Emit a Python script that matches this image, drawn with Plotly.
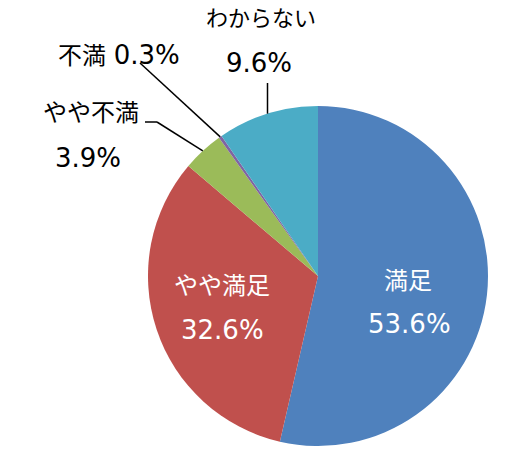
import math
import plotly.graph_objects as go

categories = ["満足", "やや満足", "やや不満", "不満", "わからない"]
values = [53.6, 32.6, 3.9, 0.3, 9.6]
colors = ["#4F81BD", "#C0504D", "#9BBB59", "#8064A2", "#4BACC6"]

W, H = 532, 476
CX, CY, R = 318, 276, 170

fig = go.Figure(go.Pie(
    labels=categories, values=values, sort=False, direction="clockwise",
    rotation=0, textinfo="none", hoverinfo="label+percent",
    marker=dict(colors=colors, line=dict(width=0)),
    domain=dict(x=[(CX - R) / W, (CX + R) / W], y=[1 - (CY + R) / H, 1 - (CY - R) / H]),
    showlegend=False,
))

def px2paper(x, y):
    return x / W, 1 - y / H

total = sum(values)
cum = 0
mids = []
for v in values:
    mids.append((cum + v / 2) / total * 2 * math.pi)
    cum += v

def edge(i, rr=R):
    a = mids[i]
    return CX + rr * math.sin(a), CY - rr * math.cos(a)

font = "DejaVu Sans, Noto Sans CJK JP"
FS_NAME = 24
FS_PCT = 26
label_pos = {
    0: ((408, 281), (409, 324), "white", FS_NAME),
    1: ((222, 286), (222, 330), "white", FS_NAME),
    2: ((91, 113), (88, 158), "black", FS_NAME),
    4: ((261, 19), (259, 63), "black", 22),
}
annotations = []
for i, ((nx, ny), (vx, vy), col, nfs) in label_pos.items():
    for (x, y), t, fs in (((nx, ny), categories[i], nfs), ((vx, vy), f"{values[i]}%", FS_PCT)):
        px, py = px2paper(x, y)
        annotations.append(dict(x=px, y=py, xref="paper", yref="paper", text=t,
                                showarrow=False, font=dict(family=font, size=fs, color=col),
                                xanchor="center", yanchor="middle"))
px, py = px2paper(119, 55)
annotations.append(dict(x=px, y=py, xref="paper", yref="paper",
                        text=f"{categories[3]} <span style='font-size:{FS_PCT}px'>{values[3]}%</span>",
                        showarrow=False,
                        font=dict(family=font, size=FS_NAME, color="black"),
                        xanchor="center", yanchor="middle"))

shapes = []
def line(p1, p2):
    x0, y0 = px2paper(*p1)
    x1, y1 = px2paper(*p2)
    shapes.append(dict(type="line", xref="paper", yref="paper", x0=x0, y0=y0, x1=x1, y1=y1,
                       line=dict(color="black", width=1.5)))

e4 = edge(4)
line((e4[0], 83), e4)
e3 = edge(3)
line((140, 63), e3)
e2 = edge(2)
line((145, 122), (157, 122))
line((157, 122), e2)

fig.update_layout(
    width=W, height=H, margin=dict(l=0, r=0, t=0, b=0),
    paper_bgcolor="white", plot_bgcolor="white",
    annotations=annotations, shapes=shapes,
)
fig.write_html("out.html", config={"displayModeBar": False},
               post_script="document.body.style.margin='0px';")
